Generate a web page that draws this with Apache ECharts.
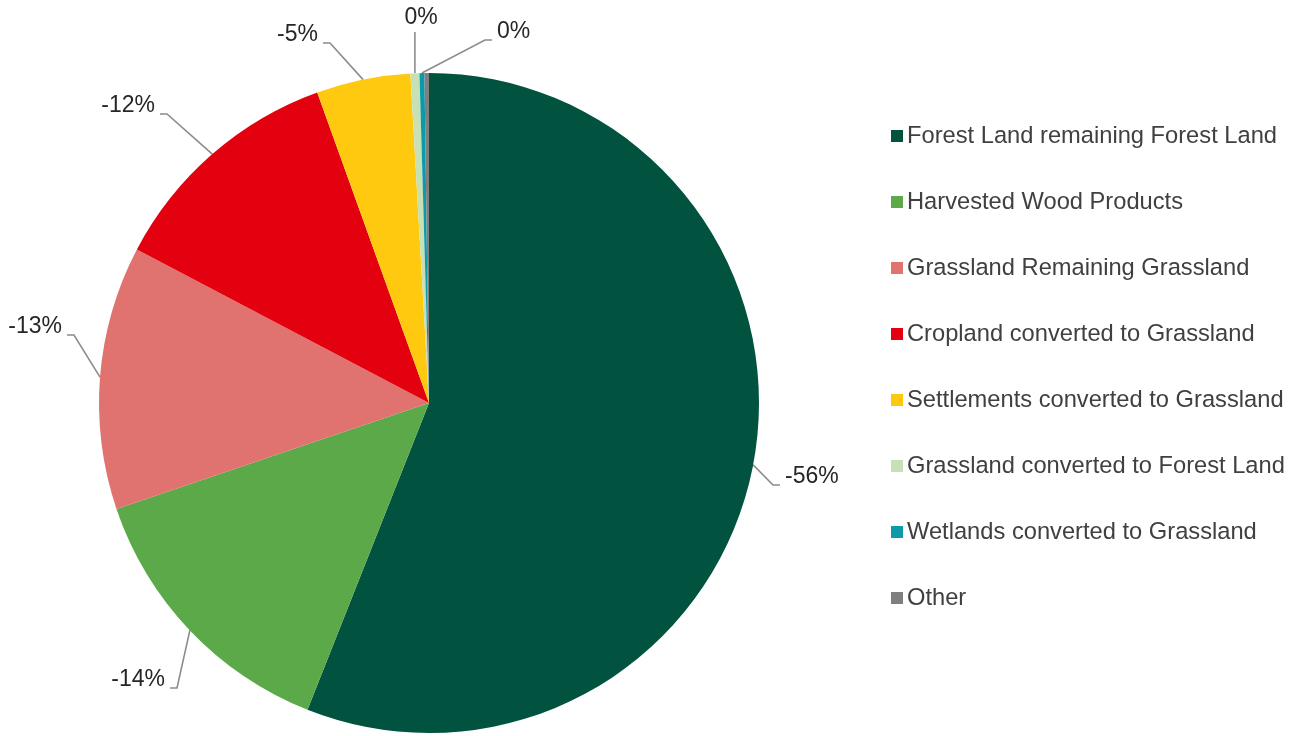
<!DOCTYPE html>
<html>
<head>
<meta charset="utf-8">
<script src="https://cdn.jsdelivr.net/npm/echarts@6/dist/echarts.min.js"></script>
<style>
  html, body { margin: 0; padding: 0; background: #ffffff; }
  #chart { width: 1306px; height: 736px; }
</style>
</head>
<body>
<div id="chart"></div>
<script>
// Land use categories (net sinks, share of total in %)
const categories = [
  'Forest Land remaining Forest Land',
  'Harvested Wood Products',
  'Grassland Remaining Grassland',
  'Cropland converted to Grassland',
  'Settlements converted to Grassland',
  'Grassland converted to Forest Land',
  'Wetlands converted to Grassland',
  'Other'
];
const shares = [-56.0, -13.8, -12.9, -11.8, -4.6, -0.44, -0.24, -0.22];
const colors = ['#01523F', '#5BA948', '#E0726F', '#E3000F', '#FFC90F', '#C8E0B5', '#0B9AAA', '#7F7F7F'];

// pie geometry
const CX = 429, CY = 403, R = 330;

// label text anchors (offsets from the pie centre) and alignment
const labelPlace = [
  { dx: 356, dy: 74, align: 'left' },
  { dx: -264, dy: 277, align: 'right' },
  { dx: -367, dy: -76, align: 'right' },
  { dx: -274, dy: -297, align: 'right' },
  { dx: -111, dy: -368, align: 'right' },
  { dx: -8, dy: -385, align: 'center' },
  { dx: 68, dy: -371, align: 'left' }
];
// leader line: gap to text, horizontal stub, drop below text centre
const LINE_GAP = 5, LINE_STUB = 7, LINE_DROP = 8;

// point on the pie rim at the middle of slice i (fallback for leader start)
function rimPoint(i) {
  const total = shares.reduce((a, v) => a + Math.abs(v), 0);
  let before = 0;
  for (let k = 0; k < i; k++) before += Math.abs(shares[k]);
  const a = (before + Math.abs(shares[i]) / 2) / total * Math.PI * 2;
  return [CX + R * Math.sin(a), CY - R * Math.cos(a)];
}

const pieData = categories.map((name, i) => ({
  name: name,
  value: Math.abs(shares[i]),
  itemStyle: { color: colors[i] },
  label: { show: i < labelPlace.length },
  labelLine: { show: i < labelPlace.length }
}));

const chart = echarts.init(document.getElementById('chart'), null, { renderer: 'canvas' });
chart.setOption({
  animation: false,
  backgroundColor: '#ffffff',
  legend: {
    orient: 'vertical',
    left: 886,
    top: 118,
    itemWidth: 12,
    itemHeight: 12,
    itemGap: 40,
    icon: 'rect',
    selectedMode: false,
    textStyle: {
      fontFamily: 'Liberation Sans, Arial, sans-serif',
      fontSize: 23.7,
      color: '#404040',
      lineHeight: 26,
      padding: [0, 0, 0, -1]
    },
    data: categories
  },
  series: [{
    type: 'pie',
    center: [CX, CY],
    radius: [0, R],
    startAngle: 90,
    clockwise: true,
    avoidLabelOverlap: false,
    itemStyle: { borderWidth: 0 },
    label: {
      position: 'outside',
      fontFamily: 'Liberation Sans, Arial, sans-serif',
      fontSize: 23,
      color: '#262626',
      formatter: p => {
        const v = Math.round(shares[p.dataIndex]);
        return (v === 0 ? '0' : v) + '%';
      }
    },
    labelLine: {
      length: 20,
      length2: 7,
      lineStyle: { color: '#8C8C8C', width: 1.6 }
    },
    labelLayout: p => {
      const pl = labelPlace[p.dataIndex];
      if (!pl) return {};
      const x = CX + pl.dx, y = CY + pl.dy;
      const start = rimPoint(p.dataIndex);
      let pts;
      if (pl.align === 'center') {
        pts = [start, [start[0], y + 14]];
      } else {
        const s = pl.align === 'left' ? -1 : 1;
        const yl = y + LINE_DROP;
        pts = [start, [x + s * (LINE_GAP + LINE_STUB), yl], [x + s * LINE_GAP, yl]];
      }
      return {
        x: x,
        y: y,
        align: pl.align,
        verticalAlign: 'middle',
        labelLinePoints: pts
      };
    },
    data: pieData
  }]
});
</script>
</body>
</html>
